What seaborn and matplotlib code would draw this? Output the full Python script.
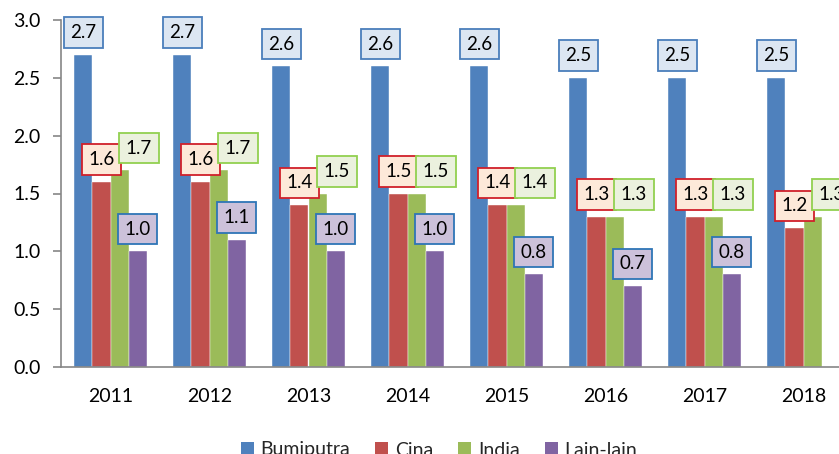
import matplotlib
matplotlib.use("Agg")
import matplotlib.pyplot as plt
import seaborn as sns
import pandas as pd
import numpy as np
from matplotlib.patches import Patch

years = ["2011", "2012", "2013", "2014", "2015", "2016", "2017", "2018"]
series = ["Bumiputra", "Cina", "India", "Lain-lain"]
bumiputra = [2.7, 2.7, 2.6, 2.6, 2.6, 2.5, 2.5, 2.5]
cina = [1.6, 1.6, 1.4, 1.5, 1.4, 1.3, 1.3, 1.2]
india = [1.7, 1.7, 1.5, 1.5, 1.4, 1.3, 1.3, 1.3]
lain_lain = [1.0, 1.1, 1.0, 1.0, 0.8, 0.7, 0.8, None]

bar_colors = ["#4f81bd", "#c0504d", "#9bbb59", "#8064a2"]
label_face = ["#dce6f2", "#fde9d9", "#ebf1de", "#ccc1da"]
label_edge = ["#4a7ebb", "#d0202a", "#92d050", "#2e75b6"]
label_dx = [0, 0, 14, 0]  # points

rows = []
for name, vals in zip(series, [bumiputra, cina, india, lain_lain]):
    for y, v in zip(years, vals):
        if v is not None:
            rows.append({"Tahun": y, "Kumpulan": name, "Nilai": v})
df = pd.DataFrame(rows)

sns.set_theme(style="white")
plt.rcParams["font.family"] = ["Lato", "DejaVu Sans"]

W, H = 839, 454
fig = plt.figure(figsize=(W / 100, H / 100), dpi=100)
x0, x1 = 61, 853
y0, y1 = 367, 20
ax = fig.add_axes([x0 / W, (H - y0) / H, (x1 - x0) / W, (y0 - y1) / H])

sns.barplot(data=df, x="Tahun", y="Nilai", hue="Kumpulan", order=years,
            hue_order=series, palette=bar_colors, width=0.728, gap=0,
            saturation=1, errorbar=None, ax=ax, legend=False,
            edgecolor="#ffffff", linewidth=0.3)

ax.set_xlim(-0.5, 7.5)
ax.set_ylim(0, 3.0)
yt = np.arange(0, 3.01, 0.5)
ax.set_yticks(yt)
ax.set_yticklabels([f"{v:.1f}" for v in yt])
ax.set_xticks(range(len(years)))
ax.set_xticklabels(years)
ax.set_xticks(np.arange(-0.5, 7.6, 1), minor=True)
ax.set_xlabel("")
ax.set_ylabel("")

axis_col = "#868686"
for s in ["top", "right"]:
    ax.spines[s].set_visible(False)
for s in ["left", "bottom"]:
    ax.spines[s].set_color(axis_col)
    ax.spines[s].set_linewidth(1.2)
ax.tick_params(axis="x", which="major", length=0, labelsize=14, pad=15, colors="black")
ax.tick_params(axis="x", which="minor", length=5, width=1.2, color=axis_col, direction="out")
ax.tick_params(axis="y", length=5.8, width=1.2, color=axis_col, direction="out",
               labelsize=14, pad=9, labelcolor="black", left=True)

for i, cont in enumerate(ax.containers):
    for bar in cont:
        h = bar.get_height()
        if np.isnan(h):
            continue
        cx = bar.get_x() + bar.get_width() / 2
        ax.annotate(f"{h:.1f}", xy=(cx, h), xytext=(label_dx[i], 16),
                    textcoords="offset points", ha="center", va="center",
                    fontsize=13.5, color="black", annotation_clip=False,
                    bbox=dict(boxstyle="square,pad=0.36", fc=label_face[i],
                              ec=label_edge[i], lw=1.3))

handles = [Patch(facecolor=c, edgecolor="none") for c in bar_colors]
fig.legend(handles, series, loc="center", bbox_to_anchor=(439 / W, 1 - 450 / H),
           ncol=4, frameon=False, fontsize=14, handlelength=0.65,
           handleheight=0.65, handletextpad=0.35, columnspacing=1.3)

fig.savefig("out.png", dpi=100)
